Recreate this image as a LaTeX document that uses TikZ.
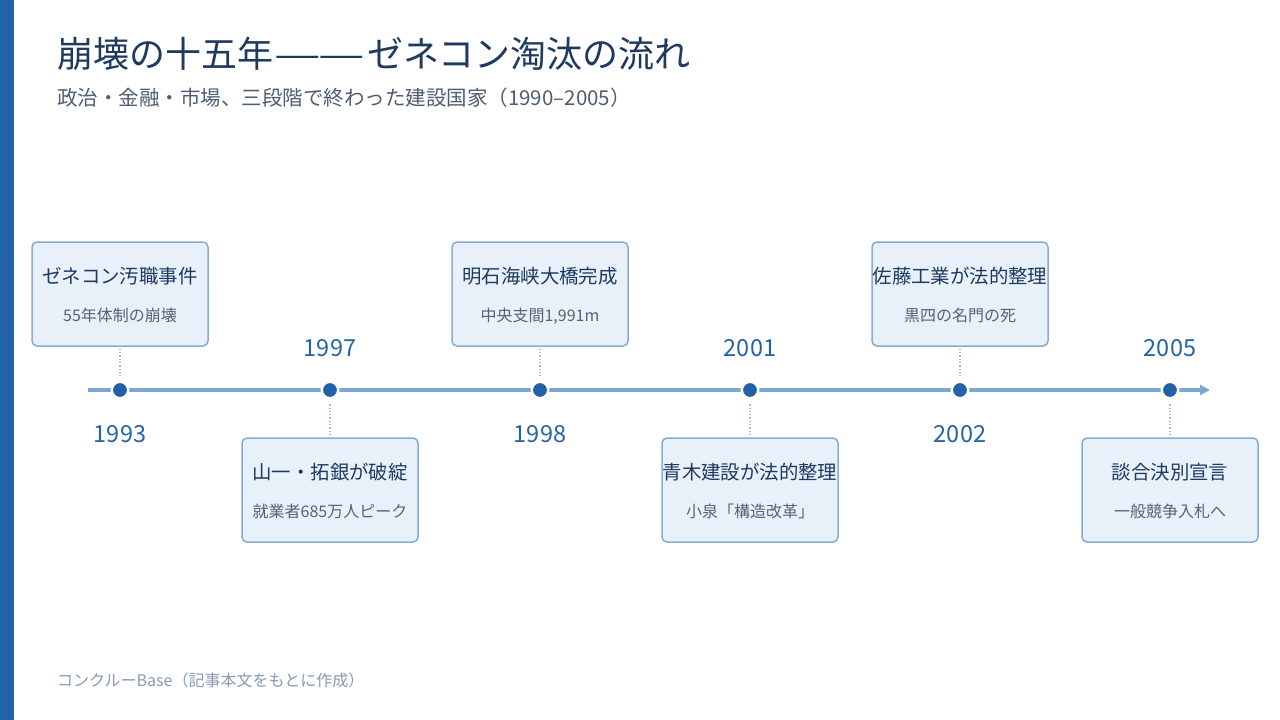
\documentclass[tikz,border=0pt]{standalone}
\usepackage{graphicx}
\usepackage{fontspec}
\setmainfont{Noto Sans CJK JP}
\usetikzlibrary{arrows.meta}
\definecolor{barblue}{HTML}{2563A8}
\definecolor{dotblue}{HTML}{2460A7}
\definecolor{lineblue}{HTML}{7BA7D4}
\definecolor{boxfill}{HTML}{E8F0FA}
\definecolor{boxdraw}{HTML}{86ACD8}
\definecolor{navy}{HTML}{1E3A5F}
\definecolor{subgray}{HTML}{4F5D70}
\definecolor{evsub}{HTML}{5A6270}
\definecolor{footgray}{HTML}{8A9AB0}
\definecolor{dotline}{HTML}{A5B8CE}
\tikzset{
  evbox/.style={draw=boxdraw, fill=boxfill, line width=1.5pt, rounded corners=5pt,
    minimum width=176pt, minimum height=104pt, inner sep=0pt},
  evtitle/.style={anchor=base, text=navy, inner sep=0pt, font=\fontsize{19.4}{23}\selectfont},
  evsubt/.style={anchor=base, text=evsub, inner sep=0pt, font=\fontsize{16}{19}\selectfont},
  yearlbl/.style={anchor=base, text=barblue, inner sep=0pt, font=\fontsize{23.5}{27}\selectfont},
  evdot/.style={circle, fill=dotblue, draw=white, line width=2.5pt, minimum size=16.5pt, inner sep=0pt},
  leader/.style={draw=dotline, dotted, line width=1.3pt},
}
\newcommand\wdash{\scalebox{1.45}[1]{—}}
\begin{document}
\begin{tikzpicture}[x=1pt,y=-1pt]
\useasboundingbox (0,0) rectangle (1280,720);
\fill[white] (0,0) rectangle (1280,720);
\fill[barblue] (0,0) rectangle (14,720);

\node[anchor=base west, inner sep=0pt, text=navy, font=\fontsize{36}{40}\selectfont] (title) at (57,67) {崩壊の十五年\kern1.5pt\wdash\kern-2.5pt\wdash\kern1.5pt ゼネコン淘汰の流れ};
\node[anchor=base west, inner sep=0pt, text=subgray, font=\fontsize{20.5}{24}\selectfont] (subtitle) at (57,105) {政治・金融・市場、三段階で終わった建設国家（1990–2005）};

% timeline
\coordinate (tlstart) at (88,390);
\coordinate (tlend) at (1210,390);
\draw[lineblue, line width=4pt, -{Triangle[length=10pt,width=10pt]}] (tlstart) -- (tlend);

% dots
\node[evdot] (d1) at (120,390) {};
\node[evdot] (d2) at (330,390) {};
\node[evdot] (d3) at (540,390) {};
\node[evdot] (d4) at (750,390) {};
\node[evdot] (d5) at (960,390) {};
\node[evdot] (d6) at (1170,390) {};

% boxes
\node[evbox] (b1) at (120,294) {};
\node[evbox] (b2) at (330,490) {};
\node[evbox] (b3) at (540,294) {};
\node[evbox] (b4) at (750,490) {};
\node[evbox] (b5) at (960,294) {};
\node[evbox] (b6) at (1170,490) {};

% leaders
\draw[leader, shorten <=2pt, shorten >=3pt] (b1.south) -- (d1.north);
\draw[leader, shorten <=2pt, shorten >=3pt] (b2.north) -- (d2.south);
\draw[leader, shorten <=2pt, shorten >=3pt] (b3.south) -- (d3.north);
\draw[leader, shorten <=2pt, shorten >=3pt] (b4.north) -- (d4.south);
\draw[leader, shorten <=2pt, shorten >=3pt] (b5.south) -- (d5.north);
\draw[leader, shorten <=2pt, shorten >=3pt] (b6.north) -- (d6.south);

% box texts
\node[evtitle] (t1) at (120,283) {ゼネコン汚職事件};
\node[evsubt] (s1) at (120,321) {55年体制の崩壊};
\node[evtitle] (t2) at (330,479) {山一・拓銀が破綻};
\node[evsubt] (s2) at (330,517) {就業者685万人ピーク};
\node[evtitle] (t3) at (540,283) {明石海峡大橋完成};
\node[evsubt] (s3) at (540,321) {中央支間1,991m};
\node[evtitle] (t4) at (750,479) {青木建設が法的整理};
\node[evsubt] (s4) at (750,517) {小泉「構造改革」};
\node[evtitle] (t5) at (960,283) {佐藤工業が法的整理};
\node[evsubt] (s5) at (960,321) {黒四の名門の死};
\node[evtitle] (t6) at (1170,479) {談合決別宣言};
\node[evsubt] (s6) at (1170,517) {一般競争入札へ};

% years
\node[yearlbl] (y1) at (120,442) {1993};
\node[yearlbl] (y2) at (330,356) {1997};
\node[yearlbl] (y3) at (540,442) {1998};
\node[yearlbl] (y4) at (750,356) {2001};
\node[yearlbl] (y5) at (960,442) {2002};
\node[yearlbl] (y6) at (1170,356) {2005};

% footer
\node[anchor=base west, inner sep=0pt, text=footgray, font=\fontsize{16}{19}\selectfont] (footer) at (57,686) {コンクルーBase（記事本文をもとに作成）};
\end{tikzpicture}
\end{document}
